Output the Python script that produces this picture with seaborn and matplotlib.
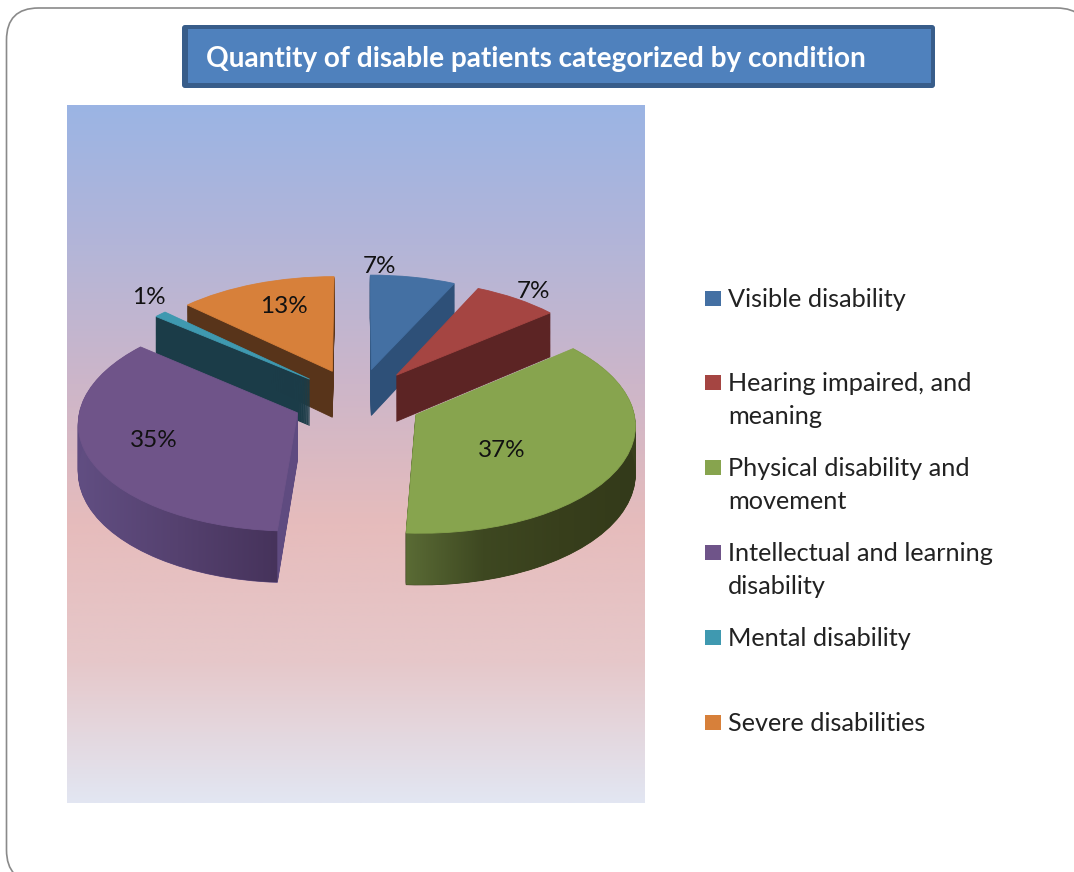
"""Exploded pseudo-3D pie of disabled patients by condition."""
import numpy as np
import seaborn as sns
import matplotlib.pyplot as plt
from matplotlib.patches import FancyBboxPatch, Polygon, Rectangle
from matplotlib.transforms import Transform

categories = ['Visible disability', 'Hearing impaired, and\nmeaning',
              'Physical disability and\nmovement', 'Intellectual and learning\ndisability',
              'Mental disability', 'Severe disabilities']
shares = [7, 7, 37, 35, 1, 13]
top_colors = ['#4470a3', '#a54542', '#87a44e', '#6f5489', '#3f99b0', '#d7803a']
side_colors = ['#2e5078', '#5c2424', '#383f1c', '#5f4b80', '#1b3c48', '#58341a']
title = 'Quantity of disable patients categorized by condition'

# pixel layout
draw_order = [5, 0, 1, 4, 3, 2]
label_xy = [(379, 266), (534, 291), (502, 450), (154, 440), (149, 297), (284, 306)]
legend_y = [299, 383, 468, 553, 638, 723]
gradient_stops = ['#9bb4e4', '#b3b5d8', '#cdb6c9', '#e6bcbc', '#e6c8ca', '#e2e6f2']
CX, CY, RX, RY, PERSP, DEPTH = 357.5, 400, 216, 106.6, 0.08, 47


class Projection(Transform):
    """Pie plane (unit circle) to pixels, tilted with a little perspective."""
    input_dims = 2
    output_dims = 2

    def __init__(self, drop=0):
        super().__init__()
        self.drop = drop

    def transform_non_affine(self, values):
        values = np.asarray(values)
        s = 1 / (1 + PERSP * values[:, 1])
        return np.column_stack([CX + RX * values[:, 0] * s,
                                CY - RY * values[:, 1] * s + self.drop * s])


def gradient_strip(ax, wedge, colors, zorder):
    """Horizontal shading on the outer rim of one slice."""
    theta = np.radians(np.linspace(wedge.theta1, wedge.theta2, 80))
    pts = np.column_stack([wedge.center[0] + wedge.r * np.cos(theta),
                           wedge.center[1] + wedge.r * np.sin(theta)])
    upper = Projection(0).transform_non_affine(pts)
    lower = Projection(DEPTH).transform_non_affine(pts)
    outline = np.vstack([upper, lower[::-1]])
    cmap = sns.blend_palette(colors, as_cmap=True)
    im = ax.imshow(np.linspace(0, 1, 256)[None, :], cmap=cmap, aspect='auto', zorder=zorder,
                   extent=(outline[:, 0].min(), outline[:, 0].max(),
                           outline[:, 1].max(), outline[:, 1].min()))
    clip = Polygon(outline, transform=ax.transData, facecolor='none', edgecolor='none')
    ax.add_patch(clip)
    im.set_clip_path(clip)


sns.set_theme(style='white')
plt.rcParams['font.family'] = ['Lato', 'DejaVu Sans']

fig = plt.figure(figsize=(10.74, 8.72), dpi=100, facecolor='white')
ax = fig.add_axes([0, 0, 1, 1])

# stacked pies make the extruded sides, the last one is the top face
for drop in list(range(DEPTH, 0, -1)) + [0]:
    colors = top_colors if drop == 0 else side_colors
    wedges, _ = ax.pie(shares, explode=[0.3] * len(shares), colors=colors, startangle=90,
                       counterclock=False, radius=1, wedgeprops={'linewidth': 0})
    for rank, idx in enumerate(draw_order):
        wedges[idx].set_transform(Projection(drop) + ax.transData)
        wedges[idx].set_zorder(10 + rank * 3 + (2 if drop == 0 else 0))
        # thin slices break up into stripes without an outline
        wedges[idx].set_edgecolor(colors[idx])
        wedges[idx].set_linewidth(0.6)

gradient_strip(ax, wedges[2], ['#5a6b35', '#3e4821', '#383f1c', '#333a1a'], 10 + 5 * 3 + 1)
gradient_strip(ax, wedges[3], ['#614e82', '#55416f', '#46335b'], 10 + 4 * 3 + 1)

ax.set_aspect('auto')
ax.set_frame_on(False)
ax.set_xticks([])
ax.set_yticks([])

# panel and plot background
ax.add_patch(FancyBboxPatch((6.5, 8), 1082, 874, boxstyle='round,pad=0,rounding_size=32',
                            facecolor='white', edgecolor='#8a8a8a', linewidth=1.2, zorder=0))
ax.imshow(np.linspace(0, 1, 256)[:, None], cmap=sns.blend_palette(gradient_stops, as_cmap=True),
          aspect='auto', extent=(67, 645, 803, 106), zorder=1)

# title box
ax.add_patch(FancyBboxPatch((182, 25), 753, 63, boxstyle='round,pad=0,rounding_size=3',
                            facecolor='#385d8a', edgecolor='none', zorder=2))
ax.add_patch(Rectangle((188, 29), 743, 54, facecolor='#4f81bd', edgecolor='none', zorder=2.5))
ax.text(536, 59, title, color='white', fontsize=20.2, fontweight='bold',
        ha='center', va='center', zorder=3)

for value, (x, y) in zip(shares, label_xy):
    ax.text(x, y, f'{value}%', fontsize=17.5, color='#111111', ha='center', va='center', zorder=40)

for name, color, y in zip(categories, top_colors, legend_y):
    ax.add_patch(Rectangle((705, y - 8), 16, 15, facecolor=color, edgecolor='none', zorder=3))
    ax.text(728, y - 11, name, fontsize=18.2, color='#222222', ha='left', va='top',
            linespacing=1.55, zorder=3)

ax.set_xlim(0, 1074)
ax.set_ylim(872, 0)

fig.savefig('out.png', dpi=100)
